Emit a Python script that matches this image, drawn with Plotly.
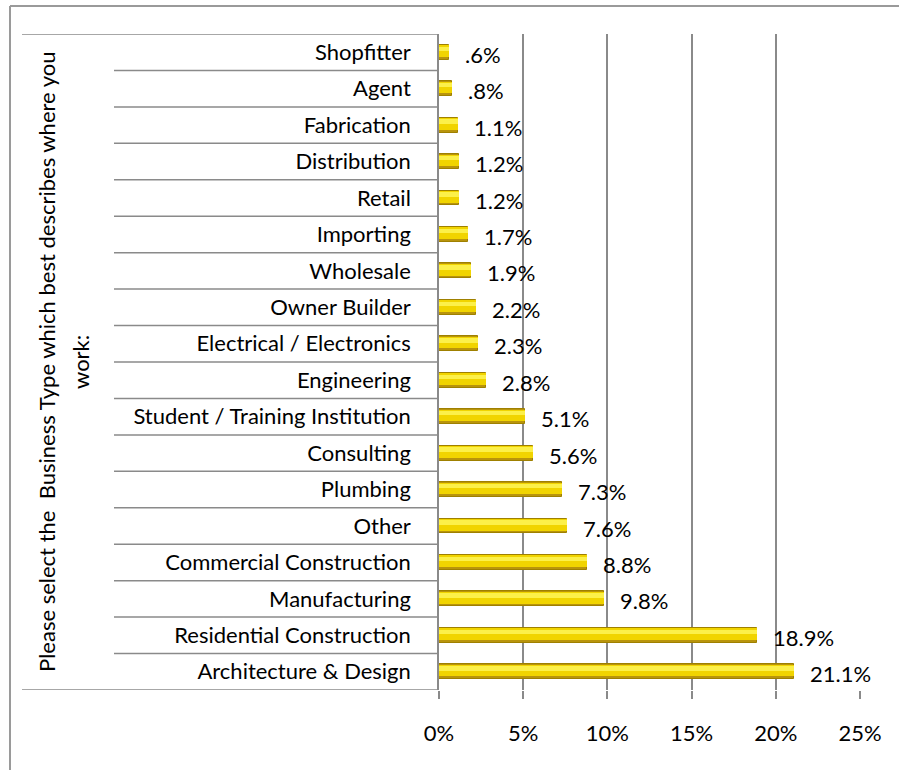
import plotly.graph_objects as go

# Business types, listed top to bottom as shown
categories = [
    "Shopfitter", "Agent", "Fabrication", "Distribution", "Retail",
    "Importing", "Wholesale", "Owner Builder", "Electrical / Electronics",
    "Engineering", "Student / Training Institution", "Consulting",
    "Plumbing", "Other", "Commercial Construction", "Manufacturing",
    "Residential Construction", "Architecture & Design",
]
percent = [0.6, 0.8, 1.1, 1.2, 1.2, 1.7, 1.9, 2.2, 2.3, 2.8,
           5.1, 5.6, 7.3, 7.6, 8.8, 9.8, 18.9, 21.1]
x_ticks = [0, 5, 10, 15, 20, 25]

FONT = "Lato"
FS = 22
GRID = "#8a8a8a"

# Canvas geometry (pixels)
W, H = 899, 770
L, R, T, B = 439, 39, 34, 80
pw, ph = W - L - R, H - T - B


def px_x(p):
    return (p - L) / pw


def px_y(p):
    return (H - B - p) / ph


def fmt(v):
    s = f"{v:.1f}"
    if s.startswith("0"):
        s = s[1:]
    return s + "%"


fig = go.Figure()

# Bar drawn in layers to give a shaded, tube-like look
half = 0.205
fig.add_trace(go.Bar(
    x=percent, y=categories, orientation="h",
    width=2 * half, offset=-half,
    marker=dict(color="#b8940c", line=dict(color="#9f8000", width=1)),
    hoverinfo="skip", showlegend=False,
))
fig.add_trace(go.Bar(
    x=percent, y=categories, orientation="h",
    width=0.32, offset=-half + 0.012,
    marker=dict(color="#f1d400", line=dict(width=0)),
    hoverinfo="skip", showlegend=False,
))
fig.add_trace(go.Bar(
    x=percent, y=categories, orientation="h",
    width=0.12, offset=-half + 0.05,
    marker=dict(color="#fcf04a", line=dict(width=0)),
    hoverinfo="skip", showlegend=False,
))

annotations = []
for c, v in zip(categories, percent):
    annotations.append(dict(
        x=v, y=c, xref="x", yref="y", text=fmt(v), showarrow=False,
        xanchor="left", yanchor="middle", xshift=14, yshift=-2,
        font=dict(family=FONT, size=FS, color="#000000"),
    ))

# Axis title, two lines
annotations.append(dict(
    x=px_x(46), y=0.5, xref="paper", yref="paper",
    text="Please select the  Business Type which best describes where you",
    textangle=-90, showarrow=False, xanchor="center", yanchor="middle",
    font=dict(family=FONT, size=FS, color="#000000"),
))
annotations.append(dict(
    x=px_x(80), y=0.5, xref="paper", yref="paper", text="work:",
    textangle=-90, showarrow=False, xanchor="center", yanchor="middle",
    font=dict(family=FONT, size=FS, color="#000000"),
))

shapes = []
# Category dividers to the left of the axis
n = len(categories)
for k in range(n + 1):
    yv = k - 0.5
    x0 = px_x(22) if k in (0, n) else px_x(114)
    shapes.append(dict(
        type="line", xref="paper", yref="y", x0=x0, x1=0, y0=yv, y1=yv,
        line=dict(color=GRID, width=1.5),
    ))
# Outer frame
shapes.append(dict(type="line", xref="paper", yref="paper",
                   x0=px_x(10), x1=1.2, y0=px_y(6), y1=px_y(6),
                   line=dict(color="#9a9a9a", width=2)))
shapes.append(dict(type="line", xref="paper", yref="paper",
                   x0=px_x(10), x1=px_x(10), y0=px_y(6), y1=-0.3,
                   line=dict(color="#9a9a9a", width=2)))

fig.update_layout(
    width=W, height=H,
    margin=dict(l=L, r=R, t=T, b=B, pad=0),
    paper_bgcolor="#ffffff", plot_bgcolor="#ffffff",
    barmode="overlay", bargap=0,
    annotations=annotations, shapes=shapes,
    font=dict(family=FONT, size=FS, color="#000000"),
)
fig.update_xaxes(
    range=[0, 25], tickmode="array", tickvals=x_ticks,
    ticktext=[f"{t}%" for t in x_ticks],
    showgrid=True, gridcolor=GRID, gridwidth=1.5,
    zeroline=False, showline=False,
    ticks="outside", ticklen=8, tickwidth=1.5, tickcolor=GRID,
    ticklabelstandoff=16,
    tickfont=dict(family=FONT, size=FS, color="#000000"),
)
fig.update_yaxes(
    categoryorder="array", categoryarray=categories,
    range=[n - 0.5, -0.5],
    showgrid=False, zeroline=False,
    showline=True, linecolor=GRID, linewidth=1.5,
    ticks="", ticklabelstandoff=22,
    tickfont=dict(family=FONT, size=FS, color="#000000"),
)

fig.write_html("out.html")
